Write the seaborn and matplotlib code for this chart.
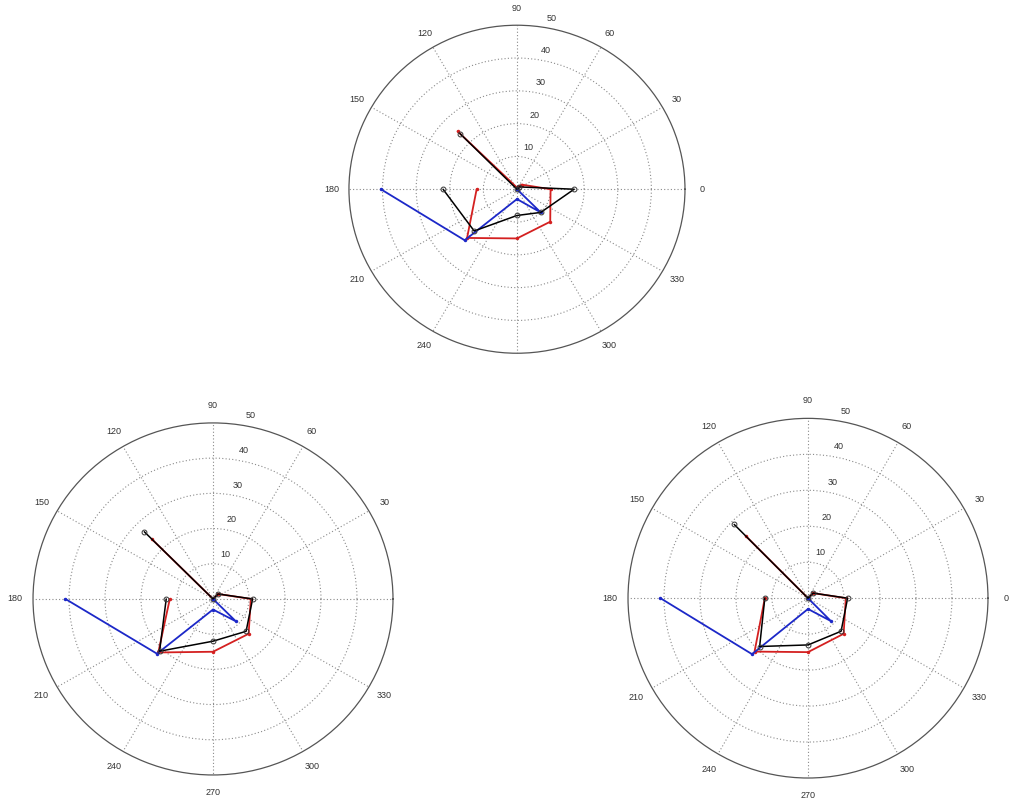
"""
Three MATLAB-style polar plots (red / blue / black profiles over 8 directions).
"""

import numpy as np
import matplotlib
matplotlib.use("Agg")
import matplotlib.pyplot as plt
import seaborn as sns

# ------------------------------------------------------------
# DATA — directions (deg) and radii per panel / series
# ------------------------------------------------------------
ANGLES_DEG = [180, 225, 270, 315, 0, 45, 90, 135]

TOP_RED = [12, 21, 15, 14, 10, 2, 0.5, 25]
TOP_BLUE = [40.5, 22, 3, 10, 0, 0, 0, 0]
TOP_BLACK = [22, 18, 8, 10, 17, 1, 0, 24]

LEFT_RED = [12, 21.5, 15, 14, 10.5, 2, 0, 24]
LEFT_BLUE = [41, 22, 3, 9, 0, 0, 0, 0]
LEFT_BLACK = [13, 21, 12, 13, 11, 2, 0, 27]

RIGHT_RED = [12, 21, 15, 14, 10.5, 2, 0, 24.5]
RIGHT_BLUE = [41, 22, 3, 9, 0, 0, 0, 0]
RIGHT_BLACK = [12, 19, 13, 13, 11, 2, 0, 29]

ANGLE_LABELS = list(range(0, 360, 30))
RADIAL_LABELS = [10, 20, 30, 40, 50]
RMAX = 50

sns.set_style("white")
plt.rcParams["font.family"] = ["Liberation Sans", "DejaVu Sans"]


def polar_panel(fig, rect, red, blue, black, skip_labels=()):
    ax = fig.add_axes(rect, projection="polar")
    ax.set_aspect("auto")
    ax.set_ylim(0, RMAX)
    ax.set_xticks(np.deg2rad(ANGLE_LABELS))
    ax.set_xticklabels([])
    ax.set_yticks(RADIAL_LABELS[:-1])
    ax.set_yticklabels([])
    ax.grid(True, color="#8a8a8a", linestyle=(0, (1, 2)), linewidth=0.8)
    ax.spines["polar"].set_color("#555555")
    ax.spines["polar"].set_linewidth(0.9)

    theta = np.deg2rad(ANGLES_DEG)
    sns.lineplot(x=theta, y=red, ax=ax, sort=False, estimator=None,
                 color="#d42020", lw=1.3, marker=".", markersize=5,
                 markeredgewidth=0)
    sns.lineplot(x=theta, y=blue, ax=ax, sort=False, estimator=None,
                 color="#1c28c8", lw=1.3, marker=".", markersize=5,
                 markeredgewidth=0)
    sns.lineplot(x=theta, y=black, ax=ax, sort=False, estimator=None,
                 color="black", lw=1.1, marker="o", markersize=3.5,
                 markerfacecolor="none", markeredgecolor="#333333",
                 markeredgewidth=0.7)

    for a in ANGLE_LABELS:
        if a in skip_labels:
            continue
        ax.text(np.deg2rad(a), RMAX * 1.1, str(a), ha="center", va="center",
                fontsize=6.5, color="#333333", clip_on=False)
    for r in RADIAL_LABELS:
        ax.text(np.deg2rad(80), r + 1.5, str(r), ha="left", va="bottom",
                fontsize=6.5, color="#333333")
    ax.set_xlabel("")
    ax.set_ylabel("")
    return ax


def main():
    fig = plt.figure(figsize=(10.10, 8.01), dpi=100)

    polar_panel(fig, [0.3455, 0.559, 0.3327, 0.4095],
                TOP_RED, TOP_BLUE, TOP_BLACK, skip_labels=(270,))
    polar_panel(fig, [0.0327, 0.0325, 0.3564, 0.4395],
                LEFT_RED, LEFT_BLUE, LEFT_BLACK, skip_labels=(0,))
    polar_panel(fig, [0.6218, 0.0287, 0.3564, 0.449],
                RIGHT_RED, RIGHT_BLUE, RIGHT_BLACK)

    fig.savefig("out.png", dpi=100, facecolor="white")
    plt.close(fig)


if __name__ == "__main__":
    main()
